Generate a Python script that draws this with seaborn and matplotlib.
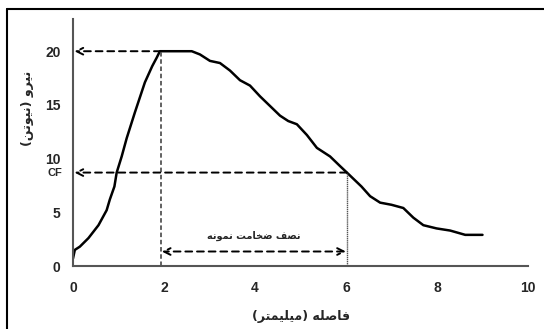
import matplotlib
matplotlib.use("Agg")
import matplotlib.pyplot as plt
import seaborn as sns
import pandas as pd
from matplotlib.lines import Line2D

# ---- data ----
distance_mm = [0.0, 0.04, 0.15, 0.34, 0.56, 0.74, 0.81, 0.91, 0.96, 1.07, 1.18, 1.36,
               1.58, 1.74, 1.84, 1.91, 2.61, 2.79, 3.01, 3.23, 3.45, 3.67, 3.89, 4.11,
               4.33, 4.55, 4.73, 4.92, 5.14, 5.36, 5.65, 5.87, 6.02, 6.34, 6.53, 6.75,
               7.0, 7.26, 7.48, 7.70, 7.99, 8.29, 8.62, 9.0]
force_n = [0.7, 1.5, 1.8, 2.6, 3.8, 5.2, 6.2, 7.4, 8.7, 10.2, 11.9, 14.3,
           17.1, 18.6, 19.4, 20.0, 20.0, 19.7, 19.1, 18.9, 18.2, 17.3, 16.8, 15.8,
           14.9, 14.0, 13.5, 13.2, 12.2, 11.0, 10.2, 9.3, 8.7, 7.4, 6.5, 5.9,
           5.7, 5.4, 4.5, 3.8, 3.5, 3.3, 2.9, 2.9]
x_ticks = [0, 2, 4, 6, 8, 10]
y_ticks = [0, 5, 10, 15, 20]
peak_force = 20.0
peak_x = 1.93
cf_value = 8.7
cf_x = 6.02
half_arrow_y = 1.35
xlabel_fa = "فاصله (میلیمتر)"
ylabel_fa = "نیرو (نیوتن)"
half_label_fa = "نصف ضخامت نمونه"

# ---- minimal Arabic/Persian shaping for matplotlib (no bidi/shaping engine) ----
FORMS = {  # iso, fin, ini, med
    'ا': ('\uFE8D', '\uFE8E', None, None),
    'ت': ('\uFE95', '\uFE96', '\uFE97', '\uFE98'),
    'خ': ('\uFEA5', '\uFEA6', '\uFEA7', '\uFEA8'),
    'ر': ('\uFEAD', '\uFEAE', None, None),
    'ص': ('\uFEB9', '\uFEBA', '\uFEBB', '\uFEBC'),
    'ض': ('\uFEBD', '\uFEBE', '\uFEBF', '\uFEC0'),
    'ف': ('\uFED1', '\uFED2', '\uFED3', '\uFED4'),
    'ل': ('\uFEDD', '\uFEDE', '\uFEDF', '\uFEE0'),
    'م': ('\uFEE1', '\uFEE2', '\uFEE3', '\uFEE4'),
    'ن': ('\uFEE5', '\uFEE6', '\uFEE7', '\uFEE8'),
    'ه': ('\uFEE9', '\uFEEA', '\uFEEB', '\uFEEC'),
    'و': ('\uFEED', '\uFEEE', None, None),
    'ی': ('\uFBFC', '\uFBFD', '\uFBFE', '\uFBFF'),
}


def shape_rtl(text):
    out = []
    n = len(text)
    for i, ch in enumerate(text):
        if ch not in FORMS:
            out.append(ch)
            continue
        iso, fin, ini, med = FORMS[ch]
        prev = text[i - 1] if i > 0 else None
        nxt = text[i + 1] if i < n - 1 else None
        jp = prev in FORMS and FORMS[prev][2] is not None
        jn = ini is not None and nxt in FORMS
        if jp and jn:
            out.append(med)
        elif jp:
            out.append(fin)
        elif jn:
            out.append(ini)
        else:
            out.append(iso)
    mirror = {'(': ')', ')': '('}
    return ''.join(mirror.get(c, c) for c in reversed(out))


# ---- plot ----
sns.set_theme(style="white")
plt.rcParams['font.family'] = ['Liberation Sans', 'DejaVu Sans']
AR_FONT = ['DejaVu Sans']

fig = plt.figure(figsize=(5.44, 3.29), dpi=100)
ax = fig.add_axes([73 / 544, 1 - 266 / 329, (528 - 73) / 544, (266 - 19) / 329])

df = pd.DataFrame({"distance": distance_mm, "force": force_n})
sns.lineplot(data=df, x="distance", y="force", ax=ax, color="black", lw=1.8,
             sort=False, estimator=None)

ax.set_xlim(0, 10)
ax.set_ylim(0, 23)
ax.set_xticks(x_ticks)
ax.set_yticks(y_ticks)
ax.set_xticklabels([str(t) for t in x_ticks], fontweight="bold", fontsize=10)
ax.set_yticklabels([str(t) for t in y_ticks], fontweight="bold", fontsize=10)
ax.tick_params(axis="x", length=0, pad=11)
ax.tick_params(axis="y", length=0, pad=9)
ax.grid(False)
for s in ("top", "right"):
    ax.spines[s].set_visible(False)
for s in ("left", "bottom"):
    ax.spines[s].set_color("#555555")
    ax.spines[s].set_linewidth(1.5)

ax.set_xlabel(shape_rtl(xlabel_fa), family=AR_FONT, fontweight="bold", fontsize=9)
ax.set_ylabel(shape_rtl(ylabel_fa), family=AR_FONT, fontweight="bold", fontsize=9)
ax.xaxis.set_label_coords(0.5, -0.18)
ax.yaxis.set_label_coords(-0.085, 0.64)

arrow_props = dict(arrowstyle="->", color="black", lw=1.4, linestyle=(0, (3.5, 2.5)),
                   shrinkA=0, shrinkB=0, mutation_scale=12)

# peak arrow
ax.annotate("", xy=(0.03, peak_force), xytext=(peak_x, peak_force), arrowprops=arrow_props)
# CF arrow
ax.annotate("", xy=(0.03, cf_value), xytext=(cf_x, cf_value), arrowprops=arrow_props)
# vertical lines
ax.plot([peak_x, peak_x], [0, peak_force], color="#555555", lw=1.3, linestyle=(0, (2.5, 1.5)))
ax.plot([cf_x, cf_x], [0, cf_value], color="#555555", lw=1.0, linestyle=(0, (1, 0.5)))
# half thickness double arrow
ax.annotate("", xy=(peak_x + 0.02, half_arrow_y), xytext=(cf_x - 0.02, half_arrow_y),
            arrowprops=dict(arrowstyle="<->", color="black", lw=1.4,
                            linestyle=(0, (3.5, 2.5)), shrinkA=0, shrinkB=0,
                            mutation_scale=12))
ax.text((peak_x + cf_x) / 2, 2.3, shape_rtl(half_label_fa), family=AR_FONT,
        fontweight="bold", fontsize=7, ha="center", va="bottom")
# CF label
ax.text(-0.4, cf_value, "CF", fontweight="bold", fontsize=8, ha="center", va="center",
        transform=ax.transData, clip_on=False)

# figure frame (top and left edges)
fig.add_artist(Line2D([7 / 544, 7 / 544], [0, 1 - 9 / 329], transform=fig.transFigure,
                      color="black", lw=1.5))
fig.add_artist(Line2D([7 / 544, 1], [1 - 9 / 329, 1 - 9 / 329], transform=fig.transFigure,
                      color="black", lw=1.5))

fig.savefig("out.png", dpi=100)
